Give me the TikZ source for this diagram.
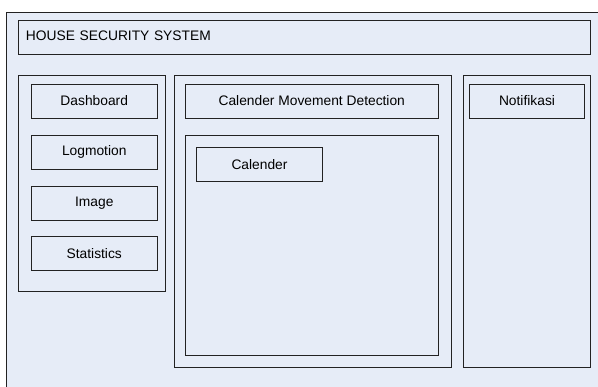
\documentclass[tikz,border=0pt]{standalone}
\usepackage{fontspec}
\setmainfont{Liberation Sans}
\definecolor{panelfill}{HTML}{E6ECF7}
\definecolor{edge}{HTML}{222222}
\tikzset{
  box/.style={draw=edge,fill=panelfill,line width=0.9pt,anchor=north west,inner sep=0pt,outer sep=0pt,align=center,font=\fontsize{13.8}{16}\selectfont},
  sized/.style 2 args={minimum width=#1pt,minimum height=#2pt},
  titlebox/.style={box,text width=557pt,minimum height=34pt,inner xsep=7.5pt,align=left,text depth=3pt}
}
\begin{document}
\begin{tikzpicture}[x=1pt,y=-1pt]
\clip (0,0) rectangle (598,387);
\node[box,sized={600}{385}] (outer) at (6,12) {};
\node[titlebox] (title) at (18.5,20.5) {HOUSE SECURITY SYSTEM};
\node[box,sized={146.5}{216}] (left) at (18.5,75.5) {};
\node[box,sized={125.5}{34}] (dash) at (31.5,84) {Dashboard};
\node[box,sized={125.5}{34}] (log) at (31.5,135) {Logmotion};
\node[box,sized={125.5}{34}] (img) at (31.5,186) {Image};
\node[box,sized={125.5}{34}] (stat) at (31.5,236.5) {Statistics};
\node[box,sized={276.5}{292}] (mid) at (174.5,75.5) {};
\node[box,sized={252.5}{34}] (cmd) at (185.5,84) {Calender Movement Detection};
\node[box,sized={252.5}{220}] (inner) at (185.5,135) {};
\node[box,sized={126}{34}] (cal) at (196.5,147.5) {Calender};
\node[box,sized={127}{292}] (right) at (463.5,75.5) {};
\node[box,sized={115}{34}] (notif) at (469.5,84) {Notifikasi};
\end{tikzpicture}
\end{document}
